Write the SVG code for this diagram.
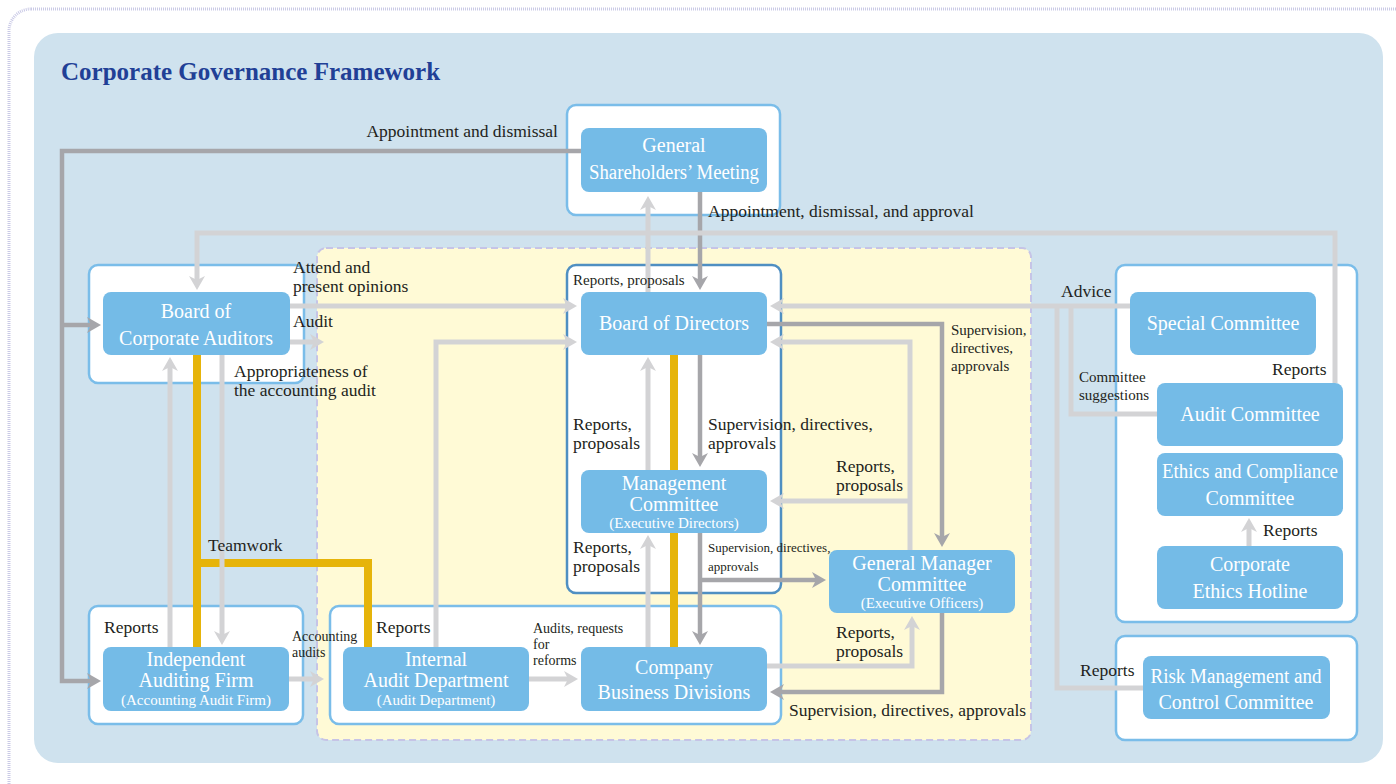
<svg xmlns="http://www.w3.org/2000/svg" width="1396" height="784" viewBox="0 0 1396 784">
<defs>
<style>
.frame{fill:#ffffff;stroke:#cacae6;stroke-width:3;stroke-dasharray:1 1}
.panel{fill:#cfe2ee}
.zone{fill:#fffad6;stroke:#c6c4e6;stroke-width:2;stroke-dasharray:7 4}
.box{fill:#ffffff;stroke:#7abde9;stroke-width:2.5}
.box2{fill:#ffffff;stroke:#4f8fc2;stroke-width:2.5}
.node{fill:#74bbe7}
.nt{font-family:"Liberation Serif",serif;font-size:20px;fill:#ffffff;text-anchor:middle}
.ns{font-family:"Liberation Serif",serif;font-size:15px;fill:#ffffff;text-anchor:middle}
.lb{font-family:"Liberation Serif",serif;font-size:17.5px;fill:#231f20}
.lbs{font-family:"Liberation Serif",serif;font-size:15px;fill:#231f20}
.lbx{font-family:"Liberation Serif",serif;font-size:14px;fill:#231f20}
.lbz{font-family:"Liberation Serif",serif;font-size:13px;fill:#231f20}
.title{font-family:"Liberation Serif",serif;font-size:25px;font-weight:bold;fill:#213f96}
.d{fill:none;stroke:#a6a6aa;stroke-width:4.5}
.l{fill:none;stroke:#d3d3d5;stroke-width:5}
.y{fill:none;stroke:#e6b40a;stroke-width:8}
</style>
<marker id="ad" markerUnits="userSpaceOnUse" markerWidth="14" markerHeight="16" viewBox="0 0 14 16" refX="5" refY="8" orient="auto">
<path d="M0,0 L14,8 L0,16 L4,8 Z" fill="#a6a6aa"/>
</marker>
<marker id="al" markerUnits="userSpaceOnUse" markerWidth="14" markerHeight="16" viewBox="0 0 14 16" refX="5" refY="8" orient="auto">
<path d="M0,0 L14,8 L0,16 L4,8 Z" fill="#d3d3d5"/>
</marker>
</defs>

<rect class="frame" x="9" y="9" width="1420" height="800" rx="22"/>
<rect class="panel" x="34" y="33" width="1349" height="730" rx="24"/>
<text class="title" x="61" y="80">Corporate Governance Framework</text>
<rect class="zone" x="317" y="248" width="714" height="492" rx="9"/>

<g id="containers">
<rect class="box" x="567" y="105" width="213" height="110" rx="9"/>
<rect class="box" x="89" y="265" width="215" height="118" rx="9"/>
<rect class="box2" x="567" y="265" width="214" height="328" rx="9"/>
<rect class="box" x="89" y="606" width="214" height="118" rx="9"/>
<rect class="box" x="330" y="606" width="451" height="118" rx="9"/>
<rect class="box" x="1116" y="265" width="241" height="357" rx="9"/>
<rect class="box" x="1116" y="636" width="241" height="104" rx="9"/>
</g>

<g id="connectors">
<path class="y" d="M197,355 V647 M197,563 H368 V647"/>
<path class="y" d="M674,355 V470 M674,533 V647"/>
<path class="d" d="M581,151 H62 V681 H92" marker-end="url(#ad)"/>
<path class="d" d="M62,325 H92" marker-end="url(#ad)"/>
<path class="d" d="M700,192 V281" marker-end="url(#ad)"/>
<path class="d" d="M700,355 V458" marker-end="url(#ad)"/>
<path class="d" d="M700,533 V636" marker-end="url(#ad)"/>
<path class="d" d="M700,580 H817" marker-end="url(#ad)"/>
<path class="d" d="M767,324 H942 V538" marker-end="url(#ad)"/>
<path class="d" d="M942,613 V692 H779" marker-end="url(#ad)"/>
<path class="l" d="M1335,383 V233 H197 V281" marker-end="url(#al)"/>
<path class="l" d="M648,292 V205" marker-end="url(#al)"/>
<path class="l" d="M290,306 H568" marker-end="url(#al)"/>
<path class="l" d="M290,342 H315" marker-end="url(#al)"/>
<path class="l" d="M436,647 V342 H568" marker-end="url(#al)"/>
<path class="l" d="M222,355 V636" marker-end="url(#al)"/>
<path class="l" d="M170,647 V366" marker-end="url(#al)"/>
<path class="l" d="M289,679 H315" marker-end="url(#al)"/>
<path class="l" d="M529,679 H569" marker-end="url(#al)"/>
<path class="l" d="M648,470 V366" marker-end="url(#al)"/>
<path class="l" d="M648,647 V544" marker-end="url(#al)"/>
<path class="l" d="M910,550 V342 H779" marker-end="url(#al)"/>
<path class="l" d="M910,501 H779" marker-end="url(#al)"/>
<path class="l" d="M767,666 H912 V625" marker-end="url(#al)"/>
<path class="l" d="M1130,306 H779" marker-end="url(#al)"/>
<path class="l" d="M1157,414 H1071 V306"/>
<path class="l" d="M1143,688 H1057 V306"/>
<path class="l" d="M1249,546 V527" marker-end="url(#al)"/>
</g>

<g id="gsm">
<rect class="node" x="581" y="128" width="186" height="64" rx="8"/>
<text class="nt" x="674" y="152">General</text>
<text class="nt" x="674" y="179" textLength="170" lengthAdjust="spacingAndGlyphs">Shareholders’ Meeting</text>
</g>
<g id="boca">
<rect class="node" x="103" y="292" width="187" height="63" rx="8"/>
<text class="nt" x="196" y="318">Board of</text>
<text class="nt" x="196" y="345">Corporate Auditors</text>
</g>
<g id="bod">
<rect class="node" x="581" y="292" width="186" height="63" rx="8"/>
<text class="nt" x="674" y="330">Board of Directors</text>
</g>
<g id="mgmt">
<rect class="node" x="581" y="470" width="186" height="63" rx="8"/>
<text class="nt" x="674" y="490">Management</text>
<text class="nt" x="674" y="511">Committee</text>
<text class="ns" x="674" y="528">(Executive Directors)</text>
</g>
<g id="gmc">
<rect class="node" x="829" y="550" width="186" height="63" rx="8"/>
<text class="nt" x="922" y="570">General Manager</text>
<text class="nt" x="922" y="591">Committee</text>
<text class="ns" x="922" y="608">(Executive Officers)</text>
</g>
<g id="iaf">
<rect class="node" x="103" y="647" width="186" height="64" rx="8"/>
<text class="nt" x="196" y="666">Independent</text>
<text class="nt" x="196" y="687">Auditing Firm</text>
<text class="ns" x="196" y="705">(Accounting Audit Firm)</text>
</g>
<g id="iad">
<rect class="node" x="343" y="647" width="186" height="64" rx="8"/>
<text class="nt" x="436" y="666">Internal</text>
<text class="nt" x="436" y="687">Audit Department</text>
<text class="ns" x="436" y="705">(Audit Department)</text>
</g>
<g id="cbd">
<rect class="node" x="581" y="647" width="186" height="64" rx="8"/>
<text class="nt" x="674" y="674">Company</text>
<text class="nt" x="674" y="699">Business Divisions</text>
</g>
<g id="special">
<rect class="node" x="1130" y="292" width="186" height="63" rx="8"/>
<text class="nt" x="1223" y="330">Special Committee</text>
</g>
<g id="auditc">
<rect class="node" x="1157" y="383" width="186" height="63" rx="8"/>
<text class="nt" x="1250" y="421">Audit Committee</text>
</g>
<g id="ethics">
<rect class="node" x="1157" y="453" width="186" height="63" rx="8"/>
<text class="nt" x="1250" y="478" textLength="176" lengthAdjust="spacingAndGlyphs">Ethics and Compliance</text>
<text class="nt" x="1250" y="505">Committee</text>
</g>
<g id="hotline">
<rect class="node" x="1157" y="546" width="186" height="63" rx="8"/>
<text class="nt" x="1250" y="571">Corporate</text>
<text class="nt" x="1250" y="598">Ethics Hotline</text>
</g>
<g id="risk">
<rect class="node" x="1143" y="656" width="187" height="63" rx="8"/>
<text class="nt" x="1236" y="683" textLength="171" lengthAdjust="spacingAndGlyphs">Risk Management and</text>
<text class="nt" x="1236" y="709">Control Committee</text>
</g>

<g id="labels">
<text class="lb" x="558" y="137" text-anchor="end">Appointment and dismissal</text>
<text class="lb" x="708" y="217">Appointment, dismissal, and approval</text>
<text class="lb" x="293" y="273">Attend and</text>
<text class="lb" x="293" y="292">present opinions</text>
<text class="lb" x="293" y="327">Audit</text>
<text class="lb" x="234" y="377">Appropriateness of</text>
<text class="lb" x="234" y="396">the accounting audit</text>
<text class="lb" x="208" y="551">Teamwork</text>
<text class="lb" x="104" y="633">Reports</text>
<text class="lb" x="376" y="633">Reports</text>
<text class="lbx" x="292" y="641">Accounting</text>
<text class="lbx" x="292" y="657">audits</text>
<text class="lbx" x="533" y="633">Audits, requests</text>
<text class="lbx" x="533" y="649">for</text>
<text class="lbx" x="533" y="665">reforms</text>
<text class="lbs" x="573" y="285">Reports, proposals</text>
<text class="lb" x="573" y="430">Reports,</text>
<text class="lb" x="573" y="449">proposals</text>
<text class="lb" x="708" y="430">Supervision, directives,</text>
<text class="lb" x="708" y="449">approvals</text>
<text class="lb" x="573" y="553">Reports,</text>
<text class="lb" x="573" y="572">proposals</text>
<text class="lbz" x="708" y="552">Supervision, directives,</text>
<text class="lbz" x="708" y="571">approvals</text>
<text class="lbs" x="951" y="335">Supervision,</text>
<text class="lbs" x="951" y="353">directives,</text>
<text class="lbs" x="951" y="371">approvals</text>
<text class="lb" x="836" y="472">Reports,</text>
<text class="lb" x="836" y="491">proposals</text>
<text class="lb" x="836" y="638">Reports,</text>
<text class="lb" x="836" y="657">proposals</text>
<text class="lb" x="789" y="716">Supervision, directives, approvals</text>
<text class="lb" x="1061" y="297">Advice</text>
<text class="lbs" x="1079" y="382">Committee</text>
<text class="lbs" x="1079" y="400">suggestions</text>
<text class="lb" x="1272" y="375">Reports</text>
<text class="lb" x="1263" y="536">Reports</text>
<text class="lb" x="1080" y="676">Reports</text>
</g>
</svg>
